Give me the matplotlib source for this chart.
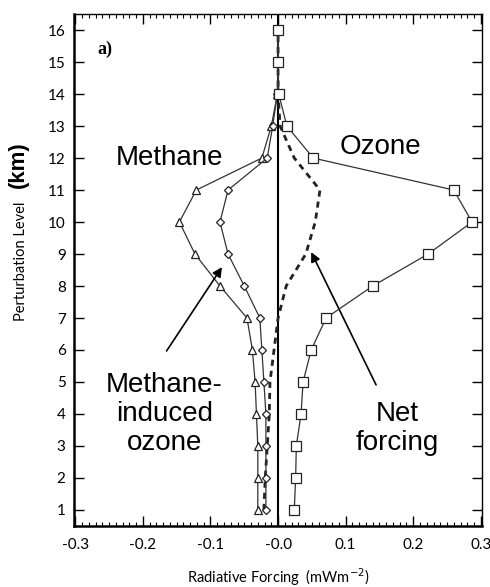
import matplotlib
matplotlib.use("Agg")
import matplotlib.pyplot as plt
from matplotlib.ticker import MultipleLocator, FixedLocator

levels = [1, 2, 3, 4, 5, 6, 7, 8, 9, 10, 11, 12, 13, 14, 15, 16]
ozone = [0.024, 0.026, 0.027, 0.034, 0.037, 0.049, 0.071, 0.140, 0.222, 0.287, 0.260, 0.052, 0.013, 0.001, 0.0, 0.0]
methane = [-0.030, -0.030, -0.030, -0.032, -0.034, -0.038, -0.046, -0.086, -0.123, -0.146, -0.121, -0.024, -0.010, -0.001, 0.0, 0.0]
ch4_ozone = [-0.018, -0.018, -0.018, -0.018, -0.021, -0.024, -0.027, -0.050, -0.074, -0.086, -0.074, -0.016, -0.008, -0.001, 0.0, 0.0]
net = [-0.021, -0.019, -0.016, -0.013, -0.012, -0.006, 0.0, 0.012, 0.041, 0.055, 0.062, 0.024, 0.003, 0.0, 0.0, 0.0]

xticks = [-0.3, -0.2, -0.1, 0.0, 0.1, 0.2, 0.3]
xticklabels = ["-0.3", "-0.2", "-0.1", "-0.0", "0.1", "0.2", "0.3"]
yticks = list(range(1, 17))

fig = plt.figure(figsize=(4.9, 5.87), dpi=100)
ax = fig.add_axes([0.151, 0.104, 0.833, 0.872])

ax.axvline(0, color="black", lw=1.5, zorder=1)

ax.plot(net, levels, ls=(0, (2.2, 1.8)), color="#222222", lw=2.0, zorder=2)
ax.plot(methane, levels, color="#333333", lw=0.9, marker="^", ms=6,
        mfc="white", mec="#222222", mew=0.9, zorder=3)
ax.plot(ch4_ozone, levels, color="#333333", lw=0.9, marker="D", ms=4.5,
        mfc="white", mec="#222222", mew=0.9, zorder=3)
ax.plot(ozone, levels, color="#333333", lw=0.9, marker="s", ms=7,
        mfc="white", mec="#222222", mew=0.9, zorder=4)

ax.set_xlim(-0.302, 0.302)
ax.set_ylim(0.5, 16.5)

ax.xaxis.set_major_locator(FixedLocator(xticks))
ax.set_xticklabels(xticklabels)
ax.xaxis.set_minor_locator(MultipleLocator(0.01))
ax.yaxis.set_major_locator(FixedLocator(yticks))
ax.set_yticklabels([str(v) for v in yticks])

tickfont = "Lato"
for lab in ax.get_xticklabels() + ax.get_yticklabels():
    lab.set_fontfamily(tickfont)
    lab.set_fontsize(11)

ax.tick_params(which="major", direction="in", top=True, right=True, length=7, width=1.0, pad=9)
ax.tick_params(which="minor", axis="x", direction="in", top=True, bottom=True, length=3, width=0.8)
ax.tick_params(axis="y", pad=6)

for s in ["left", "bottom"]:
    ax.spines[s].set_linewidth(1.8)
for s in ["top", "right"]:
    ax.spines[s].set_linewidth(1.0)

ax.set_xlabel(r"Radiative Forcing  (mWm$^{-2}$)", fontfamily=tickfont, fontsize=10.5, labelpad=10)

fig.text(0.043, 0.554, "Perturbation Level", rotation=90, fontfamily=tickfont,
         fontsize=10.5, ha="center", va="center")
fig.text(0.037, 0.720, "(km)", rotation=90, fontfamily="Liberation Sans",
         fontweight="bold", fontsize=16, ha="center", va="center")

ax.text(-0.256, 15.4, "a)", fontfamily="Liberation Serif", fontweight="bold",
        fontsize=13, ha="center", va="center")

af = "Liberation Sans"
fs = 20
ax.text(-0.161, 12.0, "Methane", fontfamily=af, fontsize=fs, ha="center", va="center")
ax.text(0.152, 12.35, "Ozone", fontfamily=af, fontsize=fs, ha="center", va="center")

ax.text(-0.168, 4.0, "Methane-\ninduced\nozone", fontfamily=af, fontsize=fs,
        ha="center", va="center", linespacing=1.15)
ax.annotate("", xy=(-0.083, 8.59), xytext=(-0.165, 5.97),
            arrowprops=dict(arrowstyle="-|>", color="black", lw=1.2,
                            mutation_scale=14, shrinkA=0, shrinkB=0))
ax.text(0.177, 3.56, "Net\nforcing", fontfamily=af, fontsize=fs, ha="center",
        va="center", linespacing=1.15)
ax.annotate("", xy=(0.049, 9.06), xytext=(0.145, 4.91),
            arrowprops=dict(arrowstyle="-|>", color="black", lw=1.2,
                            mutation_scale=14, shrinkA=0, shrinkB=0))

fig.savefig("out.png", dpi=100)
